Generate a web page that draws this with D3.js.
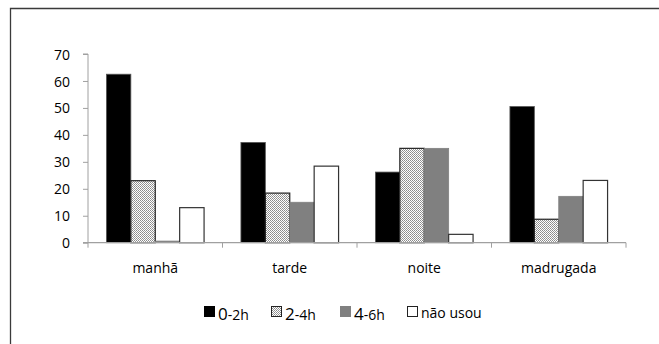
<!DOCTYPE html>
<html><head><meta charset="utf-8">
<script src="https://cdn.jsdelivr.net/npm/d3@7/dist/d3.min.js"></script>
<style>body{margin:0;background:#fff}svg{display:block}text{font-family:"Open Sans","Noto Sans",sans-serif;fill:#000}</style>
</head><body><svg id="c" width="659" height="344"></svg>
<script>
const categories = ["manhã", "tarde", "noite", "madrugada"];
const seriesNames = ["0-2h", "2-4h", "4-6h", "não usou"];
const s02 = [62.5, 37.2, 26.2, 50.5];
const s24 = [23.0, 18.4, 35.0, 8.7];
const s46 = [0.6, 15.0, 35.0, 17.2];
const sNao = [13.0, 28.4, 3.1, 23.1];
const yTicks = [0, 10, 20, 30, 40, 50, 60, 70];

const series = [s02, s24, s46, sNao];
const svg = d3.select("#c");
const defs = svg.append("defs");
const pat = defs.append("pattern").attr("id","chk").attr("width",2).attr("height",2).attr("patternUnits","userSpaceOnUse");
pat.append("rect").attr("width",2).attr("height",2).attr("fill","#ffffff");
pat.append("rect").attr("width",1).attr("height",1).attr("fill","#8a8a8a");
pat.append("rect").attr("x",1).attr("y",1).attr("width",1).attr("height",1).attr("fill","#9a9a9a");

// frame
svg.append("path").attr("d","M10.5,344 V8.5 H659").attr("fill","none").attr("stroke","#3a3a3a").attr("stroke-width",1.3);

const x0 = d3.scaleBand().domain(categories).range([88, 626]).paddingInner(0).paddingOuter(0);
const x1 = d3.scaleBand().domain(seriesNames).range([0, x0.bandwidth()]).paddingInner(0).paddingOuter(0.755);
const y = d3.scaleLinear().domain([0, 70]).range([242.7, 54]);

const fills = ["#000000", "url(#chk)", "#808080", "#ffffff"];
const strokes = ["#555", "#222", "#808080", "#333"];

const g = svg.append("g");
categories.forEach((c, ci) => {
  series.forEach((s, si) => {
    const v = s[ci];
    g.append("rect")
      .attr("x", x0(c) + x1(seriesNames[si]))
      .attr("y", y(v))
      .attr("width", x1.bandwidth())
      .attr("height", y(0) - y(v))
      .attr("fill", fills[si])
      .attr("stroke", strokes[si])
      .attr("stroke-width", si === 3 || si === 1 ? 1.2 : 0.8);
  });
});

// y axis
const ya = svg.append("g").attr("transform","translate(88,0)")
  .call(d3.axisLeft(y).tickValues(yTicks).tickSize(5).tickPadding(13));
ya.select(".domain").attr("stroke","#a0a0a0").attr("d","M-5," + y(70) + "H0V" + y(0));
ya.selectAll(".tick line").attr("stroke","#a0a0a0");
ya.selectAll("text").attr("font-size",14).attr("fill","#000").style("font-family","'Open Sans',sans-serif").attr("dy","0.36em");

// x axis
const xa = svg.append("g").attr("transform","translate(0," + y(0) + ")");
xa.append("line").attr("x1",83).attr("x2",626).attr("stroke","#a0a0a0").attr("stroke-width",1.3);
const bounds = categories.map(c => x0(c)).concat([x0.range()[1]]);
xa.selectAll(".bt").data(bounds).join("line").attr("x1",d=>d).attr("x2",d=>d).attr("y1",0).attr("y2",5).attr("stroke","#a0a0a0");
xa.selectAll(".cl").data(categories).join("text")
  .attr("x", c => x0(c) + x0.bandwidth()/2).attr("y", 30)
  .attr("text-anchor","middle").attr("font-size",14).text(c => c);

// legend
const legX = [204, 271, 340, 407];
const leg = svg.append("g");
seriesNames.forEach((n, i) => {
  leg.append("rect").attr("x", legX[i]+0.5).attr("y", 306.5).attr("width", 10).attr("height", 10)
    .attr("fill", fills[i]).attr("stroke", i===2 ? "#808080" : (i===0?"#000":"#222")).attr("stroke-width",1);
  const t = leg.append("text").attr("x", legX[i] + 14).attr("y", 320);
  if (i < 3) {
    t.append("tspan").attr("font-size",17).text(n.charAt(0));
    t.append("tspan").attr("font-size",14).text(n.slice(1));
  } else {
    t.attr("font-size",14).attr("y",318).text(n);
  }
});
</script></body></html>
